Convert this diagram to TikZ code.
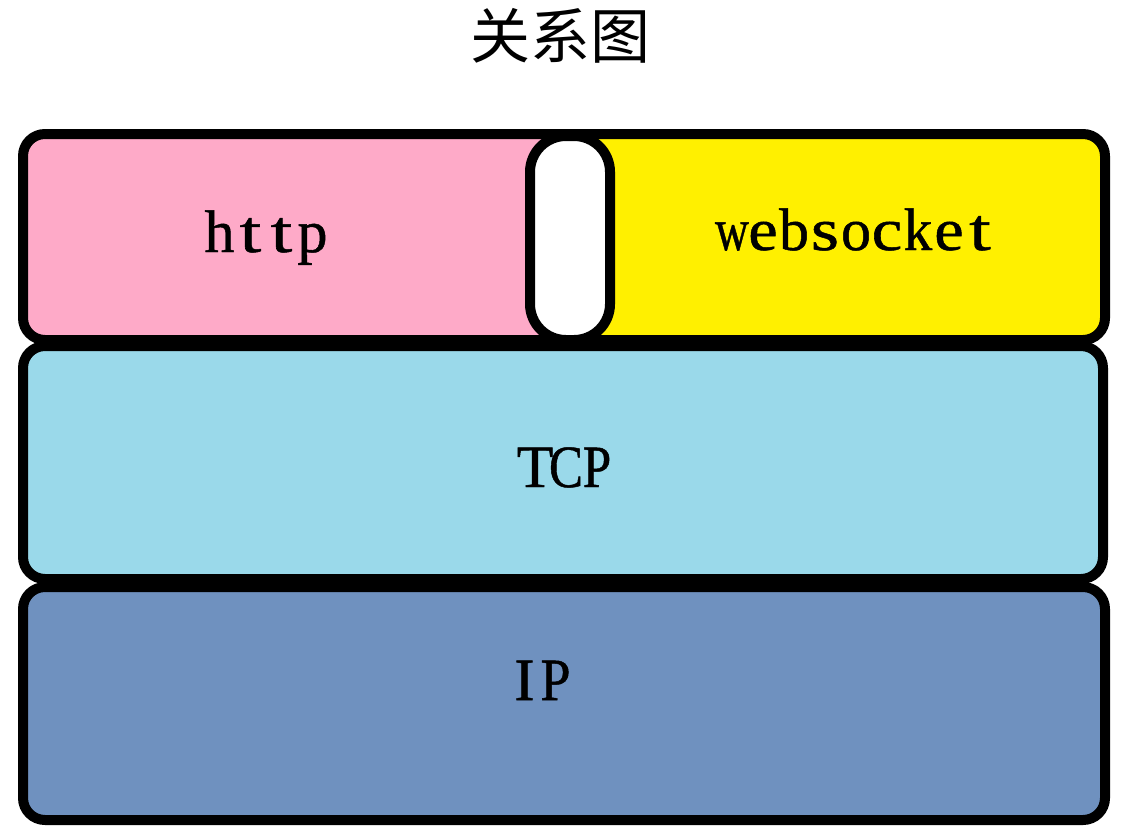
\documentclass[tikz,border=0pt]{standalone}
\usepackage{fontspec}
\usepackage{graphicx}
\setmainfont{Liberation Serif}
\newfontfamily\simfont[FakeBold=0.8]{Liberation Serif}
\newfontfamily\cjk{Noto Sans CJK SC}
\definecolor{pinkc}{RGB}{254,170,200}
\definecolor{yellowc}{RGB}{255,240,0}
\definecolor{tcpc}{RGB}{154,217,234}
\definecolor{ipc}{RGB}{111,145,191}
\newcommand{\cw}[2][1]{\makebox[31pt]{\scalebox{#1}[1]{#2}}}
\tikzset{
  layer/.style={draw=black, line width=10pt, line join=round},
  lbl/.style={anchor=base, inner sep=0pt, font=\simfont\fontsize{60}{64}\selectfont},
}
\begin{document}
\begin{tikzpicture}[x=1pt,y=-1pt]
\useasboundingbox (0,0) rectangle (1130,836);
% IP layer
\draw[layer, fill=ipc, rounded corners=22pt] (23,587) rectangle (1105,820);
% TCP layer
\draw[layer, fill=tcpc, rounded corners=22pt] (23,346) rectangle (1103,579);
% http
\draw[layer, fill=pinkc] (570,134) -- (45,134) [rounded corners=22pt] -- (23,134) -- (23,340) [sharp corners] -- (570,340);
% websocket
\draw[layer, fill=yellowc] (570,134) [rounded corners=22pt] -- (1105,134) -- (1105,340) [sharp corners] -- (570,340);
% gap capsule
\draw[layer, fill=white, rounded corners=36pt] (530,136) rectangle (610,340);
% labels
\node[lbl] (http) at (266,252) {\cw{h}\cw[1.3]{t}\cw[1.3]{t}\cw{p}};
\node[lbl] (ws) at (856,250) {\cw[0.78]{w}\cw[1.1]{e}\cw{b}\cw[1.2]{s}\cw{o}\cw[1.15]{c}\cw[0.95]{k}\cw[1.1]{e}\cw[1.3]{t}};
\node[lbl] (tcp) at (566,487) {\cw{T}\cw[0.85]{C}\cw[0.85]{P}};
\node[lbl] (ip) at (540,700) {\cw{I}\cw[0.9]{P}};
\node[inner sep=0pt, font=\cjk\fontsize{60}{64}\selectfont] (title) at (560,36) {关系图};
\end{tikzpicture}
\end{document}
